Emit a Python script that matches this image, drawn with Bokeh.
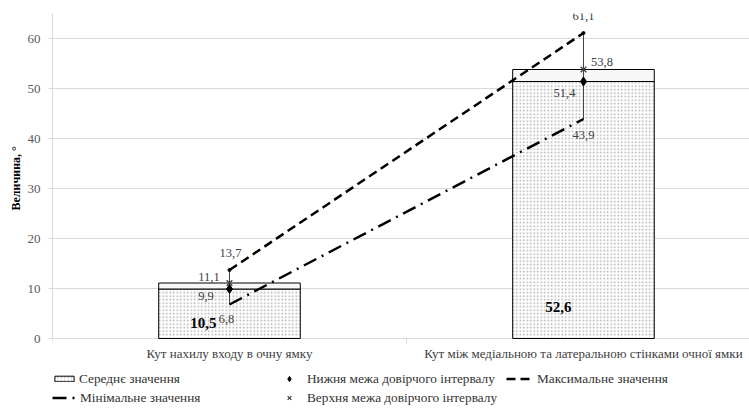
from bokeh.plotting import figure
from bokeh.models import (ColumnDataSource, FixedTicker, Legend, LegendItem,
                          LabelSet, Range1d, Title)
from bokeh.embed import file_html
from bokeh.resources import INLINE

# ---------------- data ----------------
categories = ["Кут нахилу входу в очну ямку",
              "Кут між медіальною та латеральною стінками очної ямки"]
mean_values = [10.5, 52.6]
ci_lower = [9.9, 51.4]
ci_upper = [11.1, 53.8]
min_values = [6.8, 43.9]
max_values = [13.7, 61.1]
y_ticks = [0, 10, 20, 30, 40, 50, 60]

series_names = {
    "mean": "Середнє значення",
    "lower": "Нижня межа довірчого інтервалу",
    "max": "Максимальне значення",
    "min": "Мінімальне значення",
    "upper": "Верхня межа довірчого інтервалу",
}
y_title = "Величина, °"


def fmt(v):
    return f"{v:.1f}".replace(".", ",")


FONT = "Liberation Serif"
GRID = "#d9d9d9"
Y_TOP = 65
Y_BOTTOM = -14.2   # room below the zero line for category labels and legend

xs = [i + 0.5 for i in range(len(categories))]
bounds = list(range(len(categories) + 1))

src = ColumnDataSource(dict(x=xs, lo=ci_lower, hi=ci_upper,
                            mn=min_values, mx=max_values, mean=mean_values))

p = figure(width=749, height=409, output_backend="svg", toolbar_location=None,
           x_range=Range1d(0, 1.969), y_range=Range1d(Y_BOTTOM, Y_TOP),
           min_border_left=52, min_border_right=0, min_border_top=13,
           min_border_bottom=0)
p.outline_line_color = None
p.background_fill_color = "white"
p.border_fill_color = "white"

# grid
p.xgrid.grid_line_color = None
p.ygrid.grid_line_color = GRID
p.ygrid.grid_line_width = 1
p.ygrid.ticker = FixedTicker(ticks=y_ticks)

# y axis
p.yaxis.ticker = FixedTicker(ticks=y_ticks)
p.yaxis.bounds = (0, Y_TOP)
p.yaxis.axis_line_color = GRID
p.yaxis.major_tick_line_color = GRID
p.yaxis.major_tick_out = 4
p.yaxis.major_tick_in = 0
p.yaxis.minor_tick_line_color = None
p.yaxis.major_label_text_font = FONT
p.yaxis.major_label_text_font_size = "13px"
p.yaxis.major_label_text_color = "#595959"
p.yaxis.major_label_standoff = 8

# vertical axis title, centred on the 0..65 part of the axis
p.add_layout(Title(text=y_title, align="left", offset=199, standoff=4,
                   text_font=FONT, text_font_style="bold",
                   text_font_size="12px", text_color="#000000"), "left")

p.xaxis.visible = False

# category boundary tick marks below the zero line
p.segment(x0=bounds, y0=[0] * len(bounds), x1=bounds, y1=[-1] * len(bounds),
          line_color=GRID, line_width=1)

# category labels
cat_src = ColumnDataSource(dict(x=xs, y=[0] * len(xs), t=categories))
p.add_layout(LabelSet(x="x", y="y", text="t", source=cat_src,
                      y_offset=-15, text_align="center",
                      text_baseline="middle", text_font=FONT,
                      text_font_size="13px", text_color="#404040"))

# bars: dotted part up to lower CI, light part between CI bounds
r_bar = p.vbar(x="x", bottom=0, top="lo", width=0.4, source=src,
               fill_color="white", line_color="#000000", line_width=1,
               hatch_pattern="dot", hatch_color="#ababab", hatch_scale=3.5,
               hatch_weight=1)
p.vbar(x="x", bottom="lo", top="hi", width=0.4, source=src,
       fill_color="#f7f7f7", line_color="#000000", line_width=1)

# high-low lines
p.segment(x0="x", y0="mn", x1="x", y1="mx", source=src,
          line_color="#404040", line_width=1)

# max / min lines
r_max = p.line("x", "mx", source=src, line_color="black", line_width=2.5,
               line_dash="9 5")
r_min = p.line("x", "mn", source=src, line_color="black", line_width=2.5,
               line_dash="14 6 2 6")
p.scatter("x", "mx", source=src, marker="circle", size=3, color="black")

# CI markers
r_lo = p.scatter("x", "lo", source=src, marker="diamond", size=9,
                 color="black")
r_hi = p.scatter("x", "hi", source=src, marker="x", size=8,
                 line_color="#404040", line_width=1.3)

# data labels (offsets in screen px, one pair per category)
label_layout = [
    (max_values, [(1, 16.7), (0, 17)]),
    (ci_upper, [(-20.5, 5.7), (18.5, 7.7)]),
    (ci_lower, [(-23.5, -6.8), (-19, -11.3)]),
    (min_values, [(-3, -14.8), (0, -16)]),
]
lx, ly, lt, ldx, ldy = [], [], [], [], []
for vals, offs in label_layout:
    for x, v, (dx, dy) in zip(xs, vals, offs):
        lx.append(x)
        ly.append(v)
        lt.append(fmt(v))
        ldx.append(dx)
        ldy.append(dy)
lab_src = ColumnDataSource(dict(x=lx, y=ly, t=lt, dx=ldx, dy=ldy))
p.add_layout(LabelSet(x="x", y="y", text="t", source=lab_src,
                      x_offset="dx", y_offset="dy",
                      text_align="center", text_baseline="middle",
                      text_font=FONT, text_font_size="12.5px",
                      text_color="#404040"))

mean_offsets = [(-26, 16), (-25, 32)]
mean_src = ColumnDataSource(dict(
    x=xs, y=[0] * len(xs), t=[fmt(v) for v in mean_values],
    dx=[o[0] for o in mean_offsets], dy=[o[1] for o in mean_offsets]))
p.add_layout(LabelSet(x="x", y="y", text="t", source=mean_src,
                      x_offset="dx", y_offset="dy",
                      text_align="center", text_baseline="middle",
                      text_font=FONT, text_font_size="15px",
                      text_font_style="bold", text_color="#000000"))


# legends (one per entry, placed in the area below the zero line)
def add_legend(label, renderer, loc, glyph_w, glyph_h, standoff):
    lg = Legend(items=[LegendItem(label=label, renderers=[renderer])],
                location=loc, glyph_width=glyph_w, glyph_height=glyph_h,
                label_height=13, label_standoff=standoff, padding=0,
                margin=0, spacing=0, border_line_color=None,
                background_fill_alpha=0, label_text_font=FONT,
                label_text_font_size="13.3px", label_text_color="#333333")
    p.add_layout(lg, "center")


add_legend(series_names["mean"], r_bar, (0, 22.5), 24, 7, 3)
add_legend(series_names["min"], r_min, (0, 3.5), 24, 13, 4)
add_legend(series_names["lower"], r_lo, (230, 22.5), 14, 13, 11)
add_legend(series_names["upper"], r_hi, (230, 3.5), 14, 13, 11)
add_legend(series_names["max"], r_max, (454, 22.5), 24, 13, 7)

open("out.html", "w").write(file_html(p, INLINE))
